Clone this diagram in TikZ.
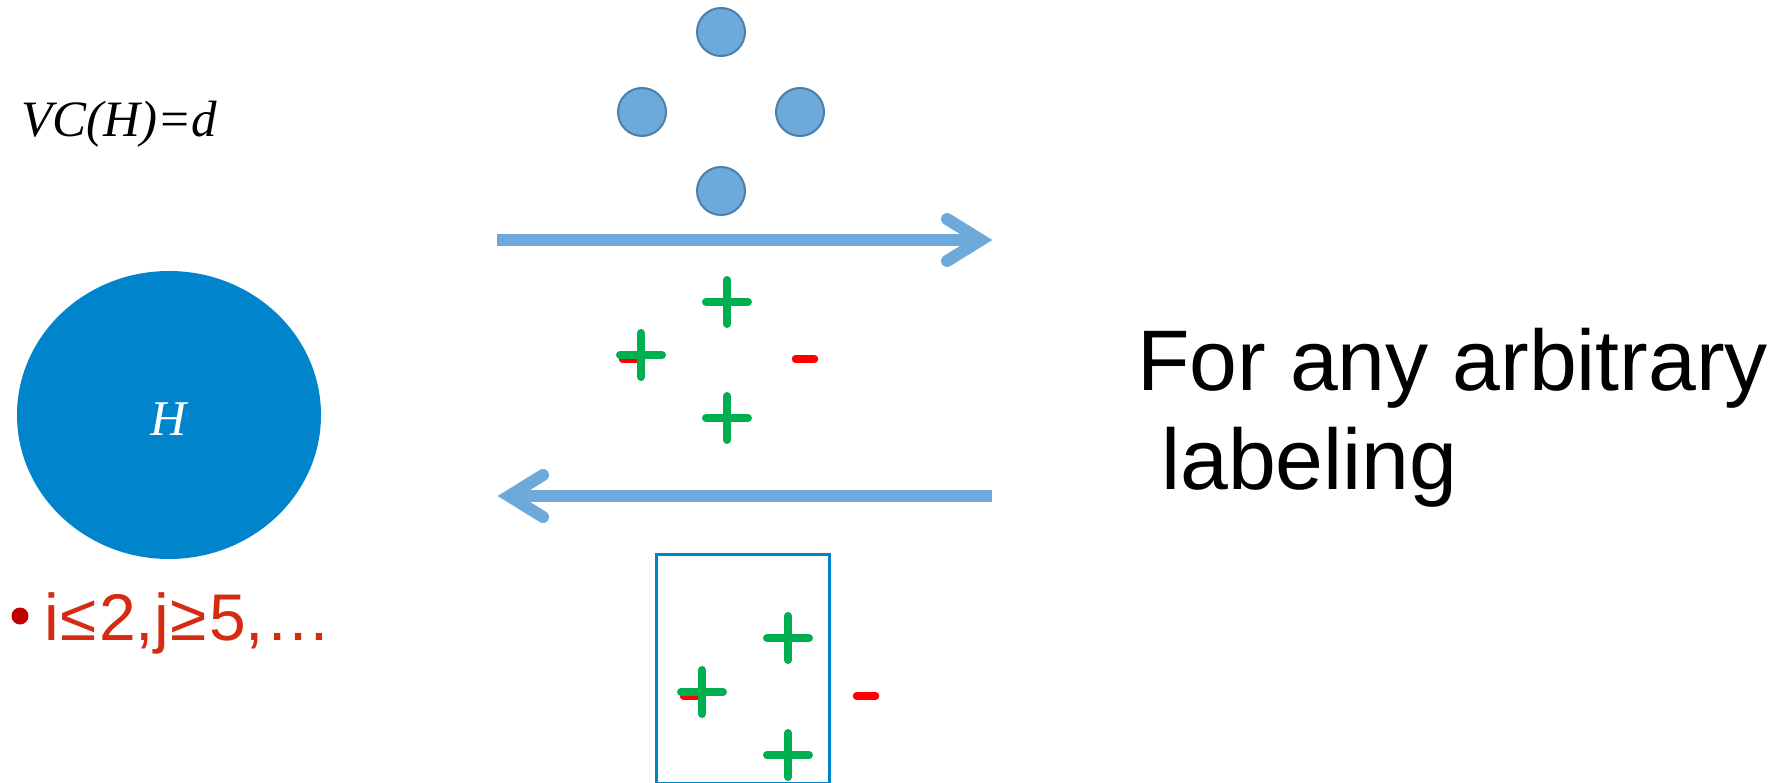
\documentclass[tikz,border=0pt]{standalone}
\usepackage{fontspec}
\usetikzlibrary{shapes.geometric}
\newfontfamily\arialfont{Liberation Sans}
\newfontfamily\timesfont{Liberation Serif}
\definecolor{hblue}{HTML}{0085CC}
\definecolor{dotfill}{HTML}{6DAADB}
\definecolor{dotedge}{HTML}{4A7EAB}
\definecolor{arrowblue}{HTML}{6DAADB}
\definecolor{plusgreen}{HTML}{00B050}
\definecolor{minusred}{HTML}{FF0000}
\definecolor{bulletred}{HTML}{C00000}
\definecolor{textred}{HTML}{D42B12}

\tikzset{
  pointdot/.style={circle, fill=dotfill, draw=dotedge, line width=2pt,
    minimum size=48pt, inner sep=0pt},
  shaft/.style={draw=arrowblue, line width=12pt, line cap=butt},
  chevron/.style={draw=arrowblue, line width=12pt, line cap=round, line join=miter},
  plusline/.style={draw=plusgreen, line width=8pt, line cap=round},
  minusline/.style={draw=minusred, line width=7.5pt, line cap=round},
  plussign/.pic={\path[plusline] (-21,0) -- (21,0) (0,-22) -- (0,22);},
  minussign/.pic={\path[minusline] (-9.5,0) -- (9.5,0);},
}

\begin{document}
\begin{tikzpicture}[x=1pt, y=-1pt]
\useasboundingbox (0,0) rectangle (1772,783);

% title formula
\node[anchor=base west, inner sep=0pt, font=\timesfont\itshape\fontsize{51}{60}\selectfont]
  (vc) at (21,137) {VC(H)=d};

% hypothesis set
\node[ellipse, fill=hblue, minimum width=304pt, minimum height=288pt, inner sep=0pt]
  (hset) at (169,415) {};
\node[anchor=base, inner sep=0pt, text=white, font=\timesfont\itshape\fontsize{50}{60}\selectfont]
  (hlabel) at (169,435) {H};

% bullet with conditions
\node[circle, fill=bulletred, minimum size=17pt, inner sep=0pt] (bullet) at (20,616) {};
\node[anchor=base west, inner sep=0pt, text=textred, font=\arialfont\fontsize{66}{76}\selectfont]
  (cond) at (44,640) {i\kern2pt≤\kern2pt2,j\kern2pt≥\kern2pt5,\kern1pt…};

% four data points
\node[pointdot] (ptop) at (721,32) {};
\node[pointdot] (pleft) at (642,112) {};
\node[pointdot] (pright) at (800,112) {};
\node[pointdot] (pbottom) at (721,191) {};

% forward arrow
\coordinate (fstart) at (497,240);
\coordinate (fvertex) at (981,240);
\coordinate (fup) at (947,219);
\coordinate (fdown) at (947,261);
\path[shaft] (fstart) -- (fvertex);
\path[chevron] (fup) -- (fvertex) -- (fdown);

% labeled points
\pic at (632,359) {minussign};
\pic at (727,302) {plussign};
\pic at (641,355) {plussign};
\pic at (805,359) {minussign};
\pic at (727,418) {plussign};

% backward arrow
\coordinate (bstart) at (992,496);
\coordinate (bvertex) at (509,496);
\coordinate (bup) at (543,475);
\coordinate (bdown) at (543,517);
\path[shaft] (bstart) -- (bvertex);
\path[chevron] (bup) -- (bvertex) -- (bdown);

% hypothesis realising the labeling
\node[draw=hblue, line width=2.5pt, minimum width=173pt, minimum height=229pt,
  inner sep=0pt, anchor=north west] (hbox) at (655,553) {};
\pic at (693,696) {minussign};
\pic at (788,638) {plussign};
\pic at (702,692) {plussign};
\pic at (788,755) {plussign};
\pic at (866,696) {minussign};

% statement
\node[anchor=base west, inner sep=0pt, font=\arialfont\fontsize{86}{98}\selectfont]
  (stmt1) at (1137,391) {For any arbitrary};
\node[anchor=base west, inner sep=0pt, font=\arialfont\fontsize{86}{98}\selectfont]
  (stmt2) at (1161,489) {labeling};
\end{tikzpicture}
\end{document}
